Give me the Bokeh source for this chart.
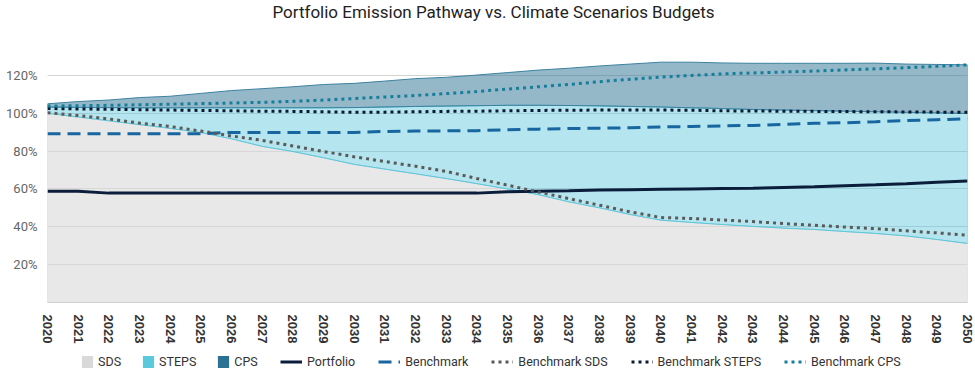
from bokeh.plotting import figure
from bokeh.models import (Range1d, FixedTicker, PrintfTickFormatter, Legend, LegendItem,
                          ColumnDataSource, Label)
from bokeh.layouts import column
from bokeh.embed import file_html
from bokeh.resources import INLINE

years = list(range(2020, 2051))

sds = [100.0, 98.0, 96.0, 94.0, 92.0, 89.8, 86.5, 82.5, 79.8, 76.5, 73.0, 70.5, 68.0, 65.5,
       62.8, 60.0, 57.0, 53.2, 50.0, 46.5, 43.5, 42.3, 41.2, 40.2, 39.3, 38.6, 37.5, 36.5,
       35.2, 33.3, 31.2]
steps = [103.3, 103.1, 103.0, 102.9, 102.9, 102.9, 102.9, 102.9, 102.9, 102.9, 103.0, 103.3,
         103.6, 103.8, 104.0, 104.2, 104.2, 104.1, 103.9, 103.6, 103.3, 102.9, 102.5, 102.0,
         101.7, 101.4, 101.1, 100.8, 100.5, 100.2, 99.9]
cps = [105.0, 106.2, 107.0, 108.3, 109.0, 110.5, 112.0, 113.0, 114.0, 115.2, 115.8, 117.0,
       118.3, 119.0, 120.2, 121.5, 122.8, 123.8, 125.0, 126.0, 127.0, 127.0, 126.6, 126.4,
       126.4, 126.4, 126.4, 126.5, 126.0, 125.8, 125.6]
portfolio = [58.8, 58.8, 57.8, 57.8, 57.8, 57.8, 57.8, 57.8, 57.8, 57.8, 57.8, 57.8, 57.8,
             57.8, 57.8, 58.5, 58.8, 59.0, 59.4, 59.6, 59.8, 60.0, 60.2, 60.4, 60.8, 61.2,
             61.7, 62.2, 62.8, 63.5, 64.2]
benchmark = [89.2, 89.2, 89.2, 89.2, 89.2, 89.2, 89.9, 89.9, 89.9, 89.9, 89.9, 90.4, 90.6,
             90.7, 90.8, 91.3, 91.6, 91.9, 92.1, 92.3, 92.8, 93.0, 93.3, 93.6, 94.1, 94.7,
             95.0, 95.5, 96.1, 96.6, 97.1]
bench_sds = [100.3, 98.8, 97.0, 94.8, 93.0, 90.6, 88.0, 85.7, 82.7, 79.8, 77.0, 74.5, 72.0,
             69.3, 65.5, 62.0, 58.4, 54.9, 51.4, 47.9, 44.9, 44.4, 43.6, 42.8, 41.7, 40.8,
             39.9, 39.0, 37.9, 36.8, 35.6]
bench_steps = [102.5, 102.3, 102.1, 101.9, 101.7, 101.5, 101.3, 101.1, 101.0, 100.8, 100.5,
               100.6, 100.8, 101.0, 101.1, 101.3, 101.5, 101.6, 101.7, 101.7, 101.7, 101.6,
               101.3, 101.2, 101.1, 101.0, 100.9, 100.8, 100.7, 100.6, 100.5]
bench_cps = [103.8, 104.0, 104.2, 104.5, 104.8, 105.1, 105.4, 105.8, 106.3, 107.0, 107.8,
             108.6, 109.4, 110.4, 111.5, 112.8, 114.0, 115.2, 116.7, 118.0, 119.1, 120.0,
             120.8, 121.3, 121.8, 122.3, 122.9, 123.5, 124.1, 124.8, 125.6]
y_ticks = [20, 40, 60, 80, 100, 120]
zeros = [0] * len(years)
TITLE = "Portfolio Emission Pathway vs. Climate Scenarios Budgets"

C_SDS, C_STEPS, C_CPS = "#d9d9d9", "#5bc8dc", "#2b7193"
LINE_STYLES = {
    "Portfolio": dict(line_color="#0b1d3a", line_width=3),
    "Benchmark": dict(line_color="#1766a0", line_width=3, line_dash="13 7"),
    "Benchmark SDS": dict(line_color="#5a5a5a", line_width=3, line_dash="3 4"),
    "Benchmark STEPS": dict(line_color="#0a1a33", line_width=3, line_dash="3 4"),
    "Benchmark CPS": dict(line_color="#167e9a", line_width=3, line_dash="3 4"),
}
SERIES = [("Portfolio", portfolio), ("Benchmark", benchmark),
          ("Benchmark SDS", bench_sds), ("Benchmark STEPS", bench_steps),
          ("Benchmark CPS", bench_cps)]

# the column aligns every frame to the main chart's frame (x = 47 .. 967 px),
# so the strips use pixel-like ranges over that frame
def strip(h, yr=(0, 1)):
    f = figure(width=975, height=h, output_backend="svg", toolbar_location=None,
               x_range=Range1d(47, 967), y_range=Range1d(*yr), min_border=0,
               x_axis_location=None, y_axis_location=None,
               background_fill_color="white", border_fill_color="white",
               outline_line_color=None)
    f.grid.visible = False
    return f

# ---- title strip
head = strip(30, yr=(0, 30))
head.add_layout(Label(x=493, y=19, text=TITLE, text_align="center", text_baseline="middle",
                      text_font="Roboto", text_font_size="17px", text_color="#222222"))

# ---- main chart
p = figure(width=975, height=316, output_backend="svg", toolbar_location=None,
           x_range=Range1d(2020, 2050), y_range=Range1d(0, 130),
           min_border_left=47, min_border_right=8, min_border_top=26, min_border_bottom=38,
           background_fill_color="white", border_fill_color="white", outline_line_color=None)

def band(lower, upper, color, alpha, lcolor):
    xs = years + years[::-1]
    ys = upper + lower[::-1]
    p.patch(xs, ys, fill_color=color, fill_alpha=alpha, line_color=lcolor, line_width=1)

band(zeros, sds, C_SDS, 0.6, "#cfcfcf")
band(sds, steps, C_STEPS, 0.45, C_STEPS)
band(steps, cps, C_CPS, 0.5, "#3d82a0")

for name, ys in SERIES:
    p.line(years, ys, **LINE_STYLES[name])

p.xgrid.visible = False
p.ygrid.ticker = FixedTicker(ticks=y_ticks)
p.ygrid.grid_line_color = "#d4d4d4"
p.ygrid.grid_line_width = 1

p.yaxis.ticker = FixedTicker(ticks=y_ticks)
p.yaxis.formatter = PrintfTickFormatter(format="%d%%")
p.yaxis.axis_line_color = None
p.yaxis.major_tick_line_color = None
p.yaxis.minor_tick_line_color = None
p.yaxis.major_label_text_font = "Roboto"
p.yaxis.major_label_text_font_size = "13px"
p.yaxis.major_label_text_color = "#666666"
p.yaxis.major_label_standoff = 4

p.xaxis.ticker = FixedTicker(ticks=years)
p.xaxis.major_label_orientation = "vertical"
p.xaxis.axis_line_color = "#d0d0d0"
p.xaxis.major_tick_line_color = None
p.xaxis.minor_tick_line_color = None
p.xaxis.major_label_text_font = "Liberation Sans"
p.xaxis.major_label_text_font_style = "bold"
p.xaxis.major_label_text_font_size = "13px"
p.xaxis.major_label_text_color = "#333333"
p.xaxis.major_label_standoff = 6

# ---- legend strip (legend renderers hold the series but lie outside this strip's ranges)
q = strip(31)

def area_dummy(lower, upper, color):
    src = ColumnDataSource(dict(left=years[:-1], right=years[1:], top=upper[:-1],
                                bottom=lower[:-1]))
    return q.quad(source=src, left="left", right="right", top="top", bottom="bottom",
                  fill_color=color, line_color=None)

area_items = [LegendItem(label="SDS", renderers=[area_dummy(zeros, sds, C_SDS)]),
              LegendItem(label="STEPS", renderers=[area_dummy(sds, steps, C_STEPS)]),
              LegendItem(label="CPS", renderers=[area_dummy(steps, cps, C_CPS)])]
line_items = [LegendItem(label=name, renderers=[q.line(years, ys, **LINE_STYLES[name])])
              for name, ys in SERIES]

def mk_legend(items, loc, gw, gh, spacing, standoff):
    lg = Legend(items=items, orientation="horizontal", location=loc,
                glyph_width=gw, glyph_height=gh, label_standoff=standoff, spacing=spacing,
                padding=0, margin=0, border_line_color=None, background_fill_alpha=0,
                label_text_font="Roboto", label_text_font_size="12.5px",
                label_text_color="#333333", label_height=15)
    q.add_layout(lg, "center")

mk_legend(area_items, (33, 8), 14, 15, 20, 4)
mk_legend(line_items, (233, 8), 22, 15, 23, 5)

open("out.html", "w").write(file_html(column(head, p, q, spacing=0), INLINE))
